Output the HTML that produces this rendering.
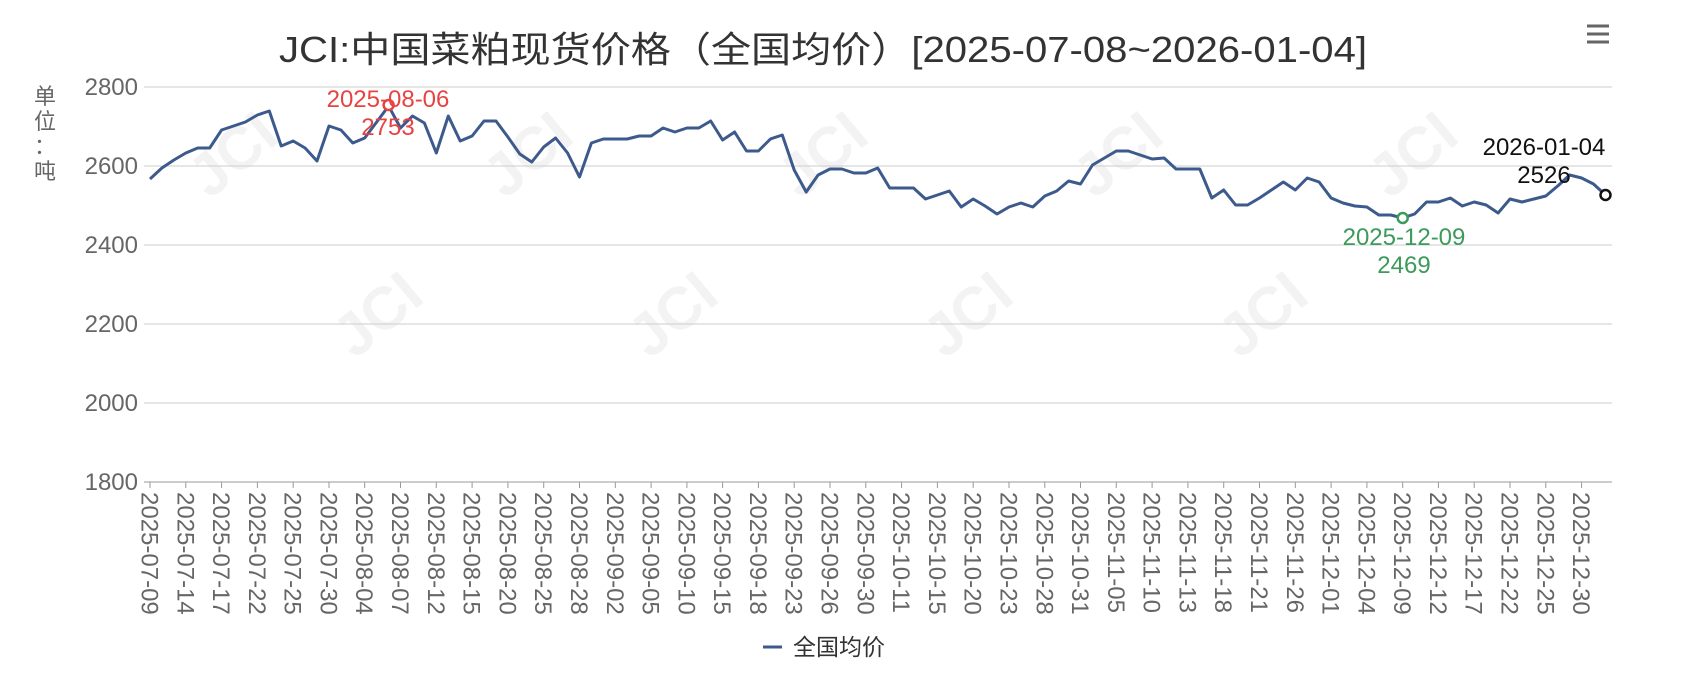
<!DOCTYPE html>
<html><head><meta charset="utf-8"><style>
html,body{margin:0;padding:0;background:#fff;}
svg{display:block;font-family:"Liberation Sans","Noto Sans CJK SC",sans-serif;}
</style></head><body>
<svg width="1698" height="698" viewBox="0 0 1698 698" xmlns="http://www.w3.org/2000/svg">
<text x="823" y="62" font-size="36" fill="#333" text-anchor="middle" textLength="1088" lengthAdjust="spacingAndGlyphs">JCI:中国菜粕现货价格（全国均价）[2025-07-08~2026-01-04]</text>
<g stroke="#666" stroke-width="3"><line x1="1587" y1="26" x2="1609" y2="26"/><line x1="1587" y1="34" x2="1609" y2="34"/><line x1="1587" y1="42" x2="1609" y2="42"/></g>
<g opacity="0.12" font-size="60" font-weight="bold" fill="#999">
<text transform="translate(210,200) rotate(-40)">JCI</text>
<text transform="translate(505,200) rotate(-40)">JCI</text>
<text transform="translate(800,200) rotate(-40)">JCI</text>
<text transform="translate(1095,200) rotate(-40)">JCI</text>
<text transform="translate(1390,200) rotate(-40)">JCI</text>
<text transform="translate(355,360) rotate(-40)">JCI</text>
<text transform="translate(650,360) rotate(-40)">JCI</text>
<text transform="translate(945,360) rotate(-40)">JCI</text>
<text transform="translate(1240,360) rotate(-40)">JCI</text>
</g>
<g stroke="#ccc" stroke-width="1">
<line x1="144" y1="87" x2="1612" y2="87"/><line x1="144" y1="166" x2="1612" y2="166"/><line x1="144" y1="245" x2="1612" y2="245"/><line x1="144" y1="324" x2="1612" y2="324"/><line x1="144" y1="403" x2="1612" y2="403"/>
</g>
<line x1="144" y1="482" x2="1612" y2="482" stroke="#999" stroke-width="1"/>
<g font-size="24" fill="#666" text-anchor="end">
<text x="138" y="95">2800</text><text x="138" y="174">2600</text><text x="138" y="253">2400</text><text x="138" y="332">2200</text><text x="138" y="411">2000</text><text x="138" y="490">1800</text>
</g>
<g font-size="22" fill="#666" text-anchor="middle"><text x="45" y="104">单</text><text x="45" y="129">位</text><text x="45" y="154">：</text><text x="45" y="179">吨</text></g>
<g stroke="#999">
<line x1="150" y1="482" x2="150" y2="488"/><line x1="185.8" y1="482" x2="185.8" y2="488"/><line x1="221.6" y1="482" x2="221.6" y2="488"/><line x1="257.4" y1="482" x2="257.4" y2="488"/><line x1="293.2" y1="482" x2="293.2" y2="488"/><line x1="329" y1="482" x2="329" y2="488"/><line x1="364.7" y1="482" x2="364.7" y2="488"/><line x1="400.5" y1="482" x2="400.5" y2="488"/><line x1="436.3" y1="482" x2="436.3" y2="488"/><line x1="472.1" y1="482" x2="472.1" y2="488"/><line x1="507.9" y1="482" x2="507.9" y2="488"/><line x1="543.7" y1="482" x2="543.7" y2="488"/><line x1="579.5" y1="482" x2="579.5" y2="488"/><line x1="615.3" y1="482" x2="615.3" y2="488"/><line x1="651.1" y1="482" x2="651.1" y2="488"/><line x1="686.9" y1="482" x2="686.9" y2="488"/><line x1="722.6" y1="482" x2="722.6" y2="488"/><line x1="758.4" y1="482" x2="758.4" y2="488"/><line x1="794.2" y1="482" x2="794.2" y2="488"/><line x1="830" y1="482" x2="830" y2="488"/><line x1="865.8" y1="482" x2="865.8" y2="488"/><line x1="901.6" y1="482" x2="901.6" y2="488"/><line x1="937.4" y1="482" x2="937.4" y2="488"/><line x1="973.2" y1="482" x2="973.2" y2="488"/><line x1="1009" y1="482" x2="1009" y2="488"/><line x1="1044.8" y1="482" x2="1044.8" y2="488"/><line x1="1080.5" y1="482" x2="1080.5" y2="488"/><line x1="1116.3" y1="482" x2="1116.3" y2="488"/><line x1="1152.1" y1="482" x2="1152.1" y2="488"/><line x1="1187.9" y1="482" x2="1187.9" y2="488"/><line x1="1223.7" y1="482" x2="1223.7" y2="488"/><line x1="1259.5" y1="482" x2="1259.5" y2="488"/><line x1="1295.3" y1="482" x2="1295.3" y2="488"/><line x1="1331.1" y1="482" x2="1331.1" y2="488"/><line x1="1366.9" y1="482" x2="1366.9" y2="488"/><line x1="1402.7" y1="482" x2="1402.7" y2="488"/><line x1="1438.4" y1="482" x2="1438.4" y2="488"/><line x1="1474.2" y1="482" x2="1474.2" y2="488"/><line x1="1510" y1="482" x2="1510" y2="488"/><line x1="1545.8" y1="482" x2="1545.8" y2="488"/><line x1="1581.6" y1="482" x2="1581.6" y2="488"/>
</g>
<g font-size="24" fill="#666">
<text transform="translate(141.5,492) rotate(90)">2025-07-09</text>
<text transform="translate(177.3,492) rotate(90)">2025-07-14</text>
<text transform="translate(213.1,492) rotate(90)">2025-07-17</text>
<text transform="translate(248.9,492) rotate(90)">2025-07-22</text>
<text transform="translate(284.7,492) rotate(90)">2025-07-25</text>
<text transform="translate(320.5,492) rotate(90)">2025-07-30</text>
<text transform="translate(356.2,492) rotate(90)">2025-08-04</text>
<text transform="translate(392,492) rotate(90)">2025-08-07</text>
<text transform="translate(427.8,492) rotate(90)">2025-08-12</text>
<text transform="translate(463.6,492) rotate(90)">2025-08-15</text>
<text transform="translate(499.4,492) rotate(90)">2025-08-20</text>
<text transform="translate(535.2,492) rotate(90)">2025-08-25</text>
<text transform="translate(571,492) rotate(90)">2025-08-28</text>
<text transform="translate(606.8,492) rotate(90)">2025-09-02</text>
<text transform="translate(642.6,492) rotate(90)">2025-09-05</text>
<text transform="translate(678.4,492) rotate(90)">2025-09-10</text>
<text transform="translate(714.1,492) rotate(90)">2025-09-15</text>
<text transform="translate(749.9,492) rotate(90)">2025-09-18</text>
<text transform="translate(785.7,492) rotate(90)">2025-09-23</text>
<text transform="translate(821.5,492) rotate(90)">2025-09-26</text>
<text transform="translate(857.3,492) rotate(90)">2025-09-30</text>
<text transform="translate(893.1,492) rotate(90)">2025-10-11</text>
<text transform="translate(928.9,492) rotate(90)">2025-10-15</text>
<text transform="translate(964.7,492) rotate(90)">2025-10-20</text>
<text transform="translate(1000.5,492) rotate(90)">2025-10-23</text>
<text transform="translate(1036.3,492) rotate(90)">2025-10-28</text>
<text transform="translate(1072,492) rotate(90)">2025-10-31</text>
<text transform="translate(1107.8,492) rotate(90)">2025-11-05</text>
<text transform="translate(1143.6,492) rotate(90)">2025-11-10</text>
<text transform="translate(1179.4,492) rotate(90)">2025-11-13</text>
<text transform="translate(1215.2,492) rotate(90)">2025-11-18</text>
<text transform="translate(1251,492) rotate(90)">2025-11-21</text>
<text transform="translate(1286.8,492) rotate(90)">2025-11-26</text>
<text transform="translate(1322.6,492) rotate(90)">2025-12-01</text>
<text transform="translate(1358.4,492) rotate(90)">2025-12-04</text>
<text transform="translate(1394.2,492) rotate(90)">2025-12-09</text>
<text transform="translate(1429.9,492) rotate(90)">2025-12-12</text>
<text transform="translate(1465.7,492) rotate(90)">2025-12-17</text>
<text transform="translate(1501.5,492) rotate(90)">2025-12-22</text>
<text transform="translate(1537.3,492) rotate(90)">2025-12-25</text>
<text transform="translate(1573.1,492) rotate(90)">2025-12-30</text>
</g>
<polyline fill="none" stroke="#3d5a8c" stroke-width="3" stroke-linejoin="round" points="150,179 161.9,168 173.9,160 185.8,153 197.7,148 209.7,148 221.6,130 233.5,126 245.4,122 257.4,115 269.3,111 281.2,146 293.2,141 305.1,148 317,161 329,126 340.9,130 352.8,143 364.7,138 376.7,122 388.6,106 400.5,128 412.5,116 424.4,123 436.3,153 448.3,116 460.2,141 472.1,136 484,121 496,121 507.9,137 519.8,154 531.8,162 543.7,147 555.6,138 567.6,153 579.5,177 591.4,143 603.3,139 615.3,139 627.2,139 639.1,136 651.1,136 663,128 674.9,132 686.9,128 698.8,128 710.7,121 722.6,140 734.6,132 746.5,151 758.4,151 770.4,139 782.3,135 794.2,170 806.2,192 818.1,175 830,169 841.9,169 853.9,173 865.8,173 877.7,168 889.7,188 901.6,188 913.5,188 925.5,199 937.4,195 949.3,191 961.2,207 973.2,199 985.1,206 997,214 1009,207 1020.9,203 1032.8,207 1044.8,196 1056.7,191 1068.6,181 1080.5,184 1092.5,165 1104.4,158 1116.3,151 1128.3,151 1140.2,155 1152.1,159 1164.1,158 1176,169 1187.9,169 1199.8,169 1211.8,198 1223.7,190 1235.6,205 1247.6,205 1259.5,198 1271.4,190 1283.4,182 1295.3,190 1307.2,178 1319.1,182 1331.1,198 1343,203 1354.9,206 1366.9,207 1378.8,215 1390.7,215 1402.7,218 1414.6,214 1426.5,202 1438.4,202 1450.4,198 1462.3,206 1474.2,202 1486.2,205 1498.1,213 1510,199 1522,202 1533.9,199 1545.8,196 1557.7,186 1569.7,175 1581.6,178 1593.5,184 1605.5,195"/>
<circle cx="388.6" cy="105" r="5" fill="#fff" stroke="#e84343" stroke-width="2.5"/>
<circle cx="1402.7" cy="218" r="5" fill="#fff" stroke="#3c9a5a" stroke-width="2.5"/>
<circle cx="1605.5" cy="195" r="5" fill="#fff" stroke="#111" stroke-width="2.5"/>
<g font-size="24" text-anchor="middle">
<text x="388" y="107" fill="#e84343">2025-08-06</text><text x="388" y="135" fill="#e84343">2753</text>
<text x="1404" y="245" fill="#3c9a5a">2025-12-09</text><text x="1404" y="273" fill="#3c9a5a">2469</text>
<text x="1544" y="155" fill="#111">2026-01-04</text><text x="1544" y="183" fill="#111">2526</text>
</g>
<line x1="763" y1="647" x2="782" y2="647" stroke="#3d5a8c" stroke-width="3"/>
<text x="793" y="655" font-size="23" fill="#333">全国均价</text>
</svg>
</body></html>
